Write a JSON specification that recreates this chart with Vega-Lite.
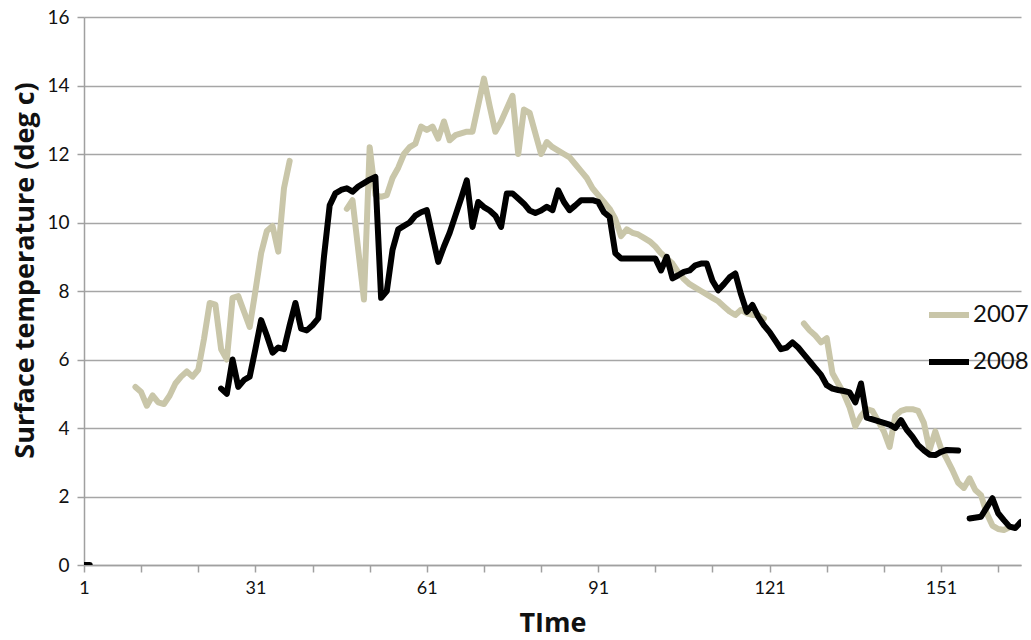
{
  "$schema": "https://vega.github.io/schema/vega-lite/v6.json",
  "autosize": {"type": "none"},
  "width": 937,
  "height": 548,
  "padding": {"left": 84, "top": 17, "right": 10, "bottom": 75},
  "background": "white",
  "config": {
    "view": {"stroke": null},
    "font": "Lato"
  },
  "data": {
    "values": [
      {"t":10,"v":5.2,"y":"2007","s":"2007a"},{"t":11,"v":5.05,"y":"2007","s":"2007a"},{"t":12,"v":4.65,"y":"2007","s":"2007a"},{"t":13,"v":4.95,"y":"2007","s":"2007a"},{"t":14,"v":4.75,"y":"2007","s":"2007a"},{"t":15,"v":4.7,"y":"2007","s":"2007a"},{"t":16,"v":4.95,"y":"2007","s":"2007a"},{"t":17,"v":5.3,"y":"2007","s":"2007a"},{"t":18,"v":5.5,"y":"2007","s":"2007a"},{"t":19,"v":5.65,"y":"2007","s":"2007a"},{"t":20,"v":5.5,"y":"2007","s":"2007a"},{"t":21,"v":5.7,"y":"2007","s":"2007a"},{"t":22,"v":6.6,"y":"2007","s":"2007a"},{"t":23,"v":7.65,"y":"2007","s":"2007a"},{"t":24,"v":7.6,"y":"2007","s":"2007a"},{"t":25,"v":6.3,"y":"2007","s":"2007a"},{"t":26,"v":6.0,"y":"2007","s":"2007a"},{"t":27,"v":7.8,"y":"2007","s":"2007a"},{"t":28,"v":7.85,"y":"2007","s":"2007a"},{"t":29,"v":7.4,"y":"2007","s":"2007a"},{"t":30,"v":6.95,"y":"2007","s":"2007a"},{"t":31,"v":8.0,"y":"2007","s":"2007a"},{"t":32,"v":9.1,"y":"2007","s":"2007a"},{"t":33,"v":9.75,"y":"2007","s":"2007a"},{"t":34,"v":9.9,"y":"2007","s":"2007a"},{"t":35,"v":9.15,"y":"2007","s":"2007a"},{"t":36,"v":11.0,"y":"2007","s":"2007a"},{"t":37,"v":11.8,"y":"2007","s":"2007a"},
      {"t":47,"v":10.4,"y":"2007","s":"2007b"},{"t":48,"v":10.65,"y":"2007","s":"2007b"},{"t":50,"v":7.75,"y":"2007","s":"2007b"},{"t":51,"v":12.2,"y":"2007","s":"2007b"},{"t":52,"v":10.8,"y":"2007","s":"2007b"},{"t":53,"v":10.75,"y":"2007","s":"2007b"},{"t":54,"v":10.8,"y":"2007","s":"2007b"},{"t":55,"v":11.3,"y":"2007","s":"2007b"},{"t":56,"v":11.6,"y":"2007","s":"2007b"},{"t":57,"v":12.0,"y":"2007","s":"2007b"},{"t":58,"v":12.2,"y":"2007","s":"2007b"},{"t":59,"v":12.3,"y":"2007","s":"2007b"},{"t":60,"v":12.8,"y":"2007","s":"2007b"},{"t":61,"v":12.7,"y":"2007","s":"2007b"},{"t":62,"v":12.8,"y":"2007","s":"2007b"},{"t":63,"v":12.45,"y":"2007","s":"2007b"},{"t":64,"v":12.95,"y":"2007","s":"2007b"},{"t":65,"v":12.4,"y":"2007","s":"2007b"},{"t":66,"v":12.55,"y":"2007","s":"2007b"},{"t":67,"v":12.6,"y":"2007","s":"2007b"},{"t":68,"v":12.65,"y":"2007","s":"2007b"},{"t":69,"v":12.65,"y":"2007","s":"2007b"},{"t":71,"v":14.2,"y":"2007","s":"2007b"},{"t":72,"v":13.4,"y":"2007","s":"2007b"},{"t":73,"v":12.65,"y":"2007","s":"2007b"},{"t":74,"v":12.95,"y":"2007","s":"2007b"},{"t":76,"v":13.7,"y":"2007","s":"2007b"},{"t":77,"v":12.0,"y":"2007","s":"2007b"},{"t":78,"v":13.3,"y":"2007","s":"2007b"},{"t":79,"v":13.2,"y":"2007","s":"2007b"},{"t":81,"v":12.0,"y":"2007","s":"2007b"},{"t":82,"v":12.35,"y":"2007","s":"2007b"},{"t":83,"v":12.2,"y":"2007","s":"2007b"},{"t":84,"v":12.1,"y":"2007","s":"2007b"},{"t":85,"v":12.0,"y":"2007","s":"2007b"},{"t":86,"v":11.9,"y":"2007","s":"2007b"},{"t":87,"v":11.7,"y":"2007","s":"2007b"},{"t":88,"v":11.5,"y":"2007","s":"2007b"},{"t":89,"v":11.3,"y":"2007","s":"2007b"},{"t":90,"v":11.0,"y":"2007","s":"2007b"},{"t":91,"v":10.8,"y":"2007","s":"2007b"},{"t":92,"v":10.6,"y":"2007","s":"2007b"},{"t":93,"v":10.4,"y":"2007","s":"2007b"},{"t":94,"v":10.1,"y":"2007","s":"2007b"},{"t":95,"v":9.6,"y":"2007","s":"2007b"},{"t":96,"v":9.8,"y":"2007","s":"2007b"},{"t":97,"v":9.7,"y":"2007","s":"2007b"},{"t":98,"v":9.65,"y":"2007","s":"2007b"},{"t":99,"v":9.55,"y":"2007","s":"2007b"},{"t":100,"v":9.45,"y":"2007","s":"2007b"},{"t":101,"v":9.3,"y":"2007","s":"2007b"},{"t":102,"v":9.1,"y":"2007","s":"2007b"},{"t":103,"v":8.95,"y":"2007","s":"2007b"},{"t":104,"v":8.8,"y":"2007","s":"2007b"},{"t":105,"v":8.55,"y":"2007","s":"2007b"},{"t":106,"v":8.35,"y":"2007","s":"2007b"},{"t":107,"v":8.2,"y":"2007","s":"2007b"},{"t":108,"v":8.1,"y":"2007","s":"2007b"},{"t":109,"v":8.0,"y":"2007","s":"2007b"},{"t":110,"v":7.9,"y":"2007","s":"2007b"},{"t":111,"v":7.8,"y":"2007","s":"2007b"},{"t":112,"v":7.7,"y":"2007","s":"2007b"},{"t":113,"v":7.55,"y":"2007","s":"2007b"},{"t":114,"v":7.4,"y":"2007","s":"2007b"},{"t":115,"v":7.3,"y":"2007","s":"2007b"},{"t":116,"v":7.45,"y":"2007","s":"2007b"},{"t":117,"v":7.35,"y":"2007","s":"2007b"},{"t":118,"v":7.3,"y":"2007","s":"2007b"},{"t":119,"v":7.3,"y":"2007","s":"2007b"},{"t":120,"v":7.2,"y":"2007","s":"2007b"},
      {"t":127,"v":7.05,"y":"2007","s":"2007c"},{"t":128,"v":6.85,"y":"2007","s":"2007c"},{"t":129,"v":6.7,"y":"2007","s":"2007c"},{"t":130,"v":6.5,"y":"2007","s":"2007c"},{"t":131,"v":6.62,"y":"2007","s":"2007c"},{"t":132,"v":5.6,"y":"2007","s":"2007c"},{"t":133,"v":5.3,"y":"2007","s":"2007c"},{"t":134,"v":5.0,"y":"2007","s":"2007c"},{"t":135,"v":4.6,"y":"2007","s":"2007c"},{"t":136,"v":4.05,"y":"2007","s":"2007c"},{"t":137,"v":4.35,"y":"2007","s":"2007c"},{"t":138,"v":4.55,"y":"2007","s":"2007c"},{"t":139,"v":4.5,"y":"2007","s":"2007c"},{"t":140,"v":4.2,"y":"2007","s":"2007c"},{"t":141,"v":3.9,"y":"2007","s":"2007c"},{"t":142,"v":3.45,"y":"2007","s":"2007c"},{"t":143,"v":4.35,"y":"2007","s":"2007c"},{"t":144,"v":4.5,"y":"2007","s":"2007c"},{"t":145,"v":4.55,"y":"2007","s":"2007c"},{"t":146,"v":4.55,"y":"2007","s":"2007c"},{"t":147,"v":4.5,"y":"2007","s":"2007c"},{"t":148,"v":4.15,"y":"2007","s":"2007c"},{"t":149,"v":3.36,"y":"2007","s":"2007c"},{"t":150,"v":3.9,"y":"2007","s":"2007c"},{"t":151,"v":3.4,"y":"2007","s":"2007c"},{"t":152,"v":3.1,"y":"2007","s":"2007c"},{"t":153,"v":2.77,"y":"2007","s":"2007c"},{"t":154,"v":2.4,"y":"2007","s":"2007c"},{"t":155,"v":2.25,"y":"2007","s":"2007c"},{"t":156,"v":2.53,"y":"2007","s":"2007c"},{"t":157,"v":2.19,"y":"2007","s":"2007c"},{"t":158,"v":2.04,"y":"2007","s":"2007c"},{"t":159,"v":1.51,"y":"2007","s":"2007c"},{"t":160,"v":1.15,"y":"2007","s":"2007c"},{"t":161,"v":1.05,"y":"2007","s":"2007c"},{"t":162,"v":1.02,"y":"2007","s":"2007c"},{"t":163,"v":1.1,"y":"2007","s":"2007c"},
      {"t":1,"v":0,"y":"2008","s":"2008a"},{"t":2,"v":0,"y":"2008","s":"2008a"},
      {"t":25,"v":5.15,"y":"2008","s":"2008b"},{"t":26,"v":5.0,"y":"2008","s":"2008b"},{"t":27,"v":6.0,"y":"2008","s":"2008b"},{"t":28,"v":5.2,"y":"2008","s":"2008b"},{"t":29,"v":5.4,"y":"2008","s":"2008b"},{"t":30,"v":5.5,"y":"2008","s":"2008b"},{"t":31,"v":6.3,"y":"2008","s":"2008b"},{"t":32,"v":7.15,"y":"2008","s":"2008b"},{"t":33,"v":6.7,"y":"2008","s":"2008b"},{"t":34,"v":6.2,"y":"2008","s":"2008b"},{"t":35,"v":6.35,"y":"2008","s":"2008b"},{"t":36,"v":6.3,"y":"2008","s":"2008b"},{"t":37,"v":7.0,"y":"2008","s":"2008b"},{"t":38,"v":7.65,"y":"2008","s":"2008b"},{"t":39,"v":6.9,"y":"2008","s":"2008b"},{"t":40,"v":6.85,"y":"2008","s":"2008b"},{"t":41,"v":7.0,"y":"2008","s":"2008b"},{"t":42,"v":7.2,"y":"2008","s":"2008b"},{"t":43,"v":9.0,"y":"2008","s":"2008b"},{"t":44,"v":10.5,"y":"2008","s":"2008b"},{"t":45,"v":10.85,"y":"2008","s":"2008b"},{"t":46,"v":10.95,"y":"2008","s":"2008b"},{"t":47,"v":11.0,"y":"2008","s":"2008b"},{"t":48,"v":10.9,"y":"2008","s":"2008b"},{"t":49,"v":11.05,"y":"2008","s":"2008b"},{"t":50,"v":11.15,"y":"2008","s":"2008b"},{"t":51,"v":11.25,"y":"2008","s":"2008b"},{"t":52,"v":11.33,"y":"2008","s":"2008b"},{"t":53,"v":7.8,"y":"2008","s":"2008b"},{"t":54,"v":8.0,"y":"2008","s":"2008b"},{"t":55,"v":9.2,"y":"2008","s":"2008b"},{"t":56,"v":9.8,"y":"2008","s":"2008b"},{"t":57,"v":9.9,"y":"2008","s":"2008b"},{"t":58,"v":10.0,"y":"2008","s":"2008b"},{"t":59,"v":10.2,"y":"2008","s":"2008b"},{"t":60,"v":10.3,"y":"2008","s":"2008b"},{"t":61,"v":10.36,"y":"2008","s":"2008b"},{"t":62,"v":9.6,"y":"2008","s":"2008b"},{"t":63,"v":8.85,"y":"2008","s":"2008b"},{"t":64,"v":9.3,"y":"2008","s":"2008b"},{"t":65,"v":9.7,"y":"2008","s":"2008b"},{"t":66,"v":10.2,"y":"2008","s":"2008b"},{"t":67,"v":10.7,"y":"2008","s":"2008b"},{"t":68,"v":11.23,"y":"2008","s":"2008b"},{"t":69,"v":9.87,"y":"2008","s":"2008b"},{"t":70,"v":10.6,"y":"2008","s":"2008b"},{"t":71,"v":10.45,"y":"2008","s":"2008b"},{"t":72,"v":10.35,"y":"2008","s":"2008b"},{"t":73,"v":10.2,"y":"2008","s":"2008b"},{"t":74,"v":9.87,"y":"2008","s":"2008b"},{"t":75,"v":10.85,"y":"2008","s":"2008b"},{"t":76,"v":10.85,"y":"2008","s":"2008b"},{"t":77,"v":10.7,"y":"2008","s":"2008b"},{"t":78,"v":10.55,"y":"2008","s":"2008b"},{"t":79,"v":10.35,"y":"2008","s":"2008b"},{"t":80,"v":10.28,"y":"2008","s":"2008b"},{"t":81,"v":10.35,"y":"2008","s":"2008b"},{"t":82,"v":10.46,"y":"2008","s":"2008b"},{"t":83,"v":10.36,"y":"2008","s":"2008b"},{"t":84,"v":10.94,"y":"2008","s":"2008b"},{"t":85,"v":10.6,"y":"2008","s":"2008b"},{"t":86,"v":10.36,"y":"2008","s":"2008b"},{"t":87,"v":10.5,"y":"2008","s":"2008b"},{"t":88,"v":10.65,"y":"2008","s":"2008b"},{"t":89,"v":10.65,"y":"2008","s":"2008b"},{"t":90,"v":10.65,"y":"2008","s":"2008b"},{"t":91,"v":10.6,"y":"2008","s":"2008b"},{"t":92,"v":10.3,"y":"2008","s":"2008b"},{"t":93,"v":10.16,"y":"2008","s":"2008b"},{"t":94,"v":9.1,"y":"2008","s":"2008b"},{"t":95,"v":8.95,"y":"2008","s":"2008b"},{"t":96,"v":8.95,"y":"2008","s":"2008b"},{"t":97,"v":8.95,"y":"2008","s":"2008b"},{"t":98,"v":8.95,"y":"2008","s":"2008b"},{"t":99,"v":8.95,"y":"2008","s":"2008b"},{"t":100,"v":8.95,"y":"2008","s":"2008b"},{"t":101,"v":8.95,"y":"2008","s":"2008b"},{"t":102,"v":8.6,"y":"2008","s":"2008b"},{"t":103,"v":9.0,"y":"2008","s":"2008b"},{"t":104,"v":8.37,"y":"2008","s":"2008b"},{"t":105,"v":8.46,"y":"2008","s":"2008b"},{"t":106,"v":8.56,"y":"2008","s":"2008b"},{"t":107,"v":8.6,"y":"2008","s":"2008b"},{"t":108,"v":8.75,"y":"2008","s":"2008b"},{"t":109,"v":8.8,"y":"2008","s":"2008b"},{"t":110,"v":8.8,"y":"2008","s":"2008b"},{"t":111,"v":8.3,"y":"2008","s":"2008b"},{"t":112,"v":8.02,"y":"2008","s":"2008b"},{"t":113,"v":8.2,"y":"2008","s":"2008b"},{"t":114,"v":8.4,"y":"2008","s":"2008b"},{"t":115,"v":8.51,"y":"2008","s":"2008b"},{"t":116,"v":7.9,"y":"2008","s":"2008b"},{"t":117,"v":7.39,"y":"2008","s":"2008b"},{"t":118,"v":7.59,"y":"2008","s":"2008b"},{"t":119,"v":7.25,"y":"2008","s":"2008b"},{"t":120,"v":7.0,"y":"2008","s":"2008b"},{"t":121,"v":6.8,"y":"2008","s":"2008b"},{"t":122,"v":6.55,"y":"2008","s":"2008b"},{"t":123,"v":6.3,"y":"2008","s":"2008b"},{"t":124,"v":6.35,"y":"2008","s":"2008b"},{"t":125,"v":6.5,"y":"2008","s":"2008b"},{"t":126,"v":6.35,"y":"2008","s":"2008b"},{"t":127,"v":6.15,"y":"2008","s":"2008b"},{"t":128,"v":5.95,"y":"2008","s":"2008b"},{"t":129,"v":5.75,"y":"2008","s":"2008b"},{"t":130,"v":5.55,"y":"2008","s":"2008b"},{"t":131,"v":5.25,"y":"2008","s":"2008b"},{"t":132,"v":5.15,"y":"2008","s":"2008b"},{"t":133,"v":5.11,"y":"2008","s":"2008b"},{"t":134,"v":5.08,"y":"2008","s":"2008b"},{"t":135,"v":5.04,"y":"2008","s":"2008b"},{"t":136,"v":4.75,"y":"2008","s":"2008b"},{"t":137,"v":5.3,"y":"2008","s":"2008b"},{"t":138,"v":4.3,"y":"2008","s":"2008b"},{"t":139,"v":4.25,"y":"2008","s":"2008b"},{"t":140,"v":4.2,"y":"2008","s":"2008b"},{"t":141,"v":4.15,"y":"2008","s":"2008b"},{"t":142,"v":4.1,"y":"2008","s":"2008b"},{"t":143,"v":4.0,"y":"2008","s":"2008b"},{"t":144,"v":4.23,"y":"2008","s":"2008b"},{"t":145,"v":3.95,"y":"2008","s":"2008b"},{"t":146,"v":3.75,"y":"2008","s":"2008b"},{"t":147,"v":3.5,"y":"2008","s":"2008b"},{"t":148,"v":3.35,"y":"2008","s":"2008b"},{"t":149,"v":3.22,"y":"2008","s":"2008b"},{"t":150,"v":3.21,"y":"2008","s":"2008b"},{"t":151,"v":3.3,"y":"2008","s":"2008b"},{"t":152,"v":3.36,"y":"2008","s":"2008b"},{"t":153,"v":3.35,"y":"2008","s":"2008b"},{"t":154,"v":3.34,"y":"2008","s":"2008b"},
      {"t":156,"v":1.36,"y":"2008","s":"2008c"},{"t":158,"v":1.41,"y":"2008","s":"2008c"},{"t":160,"v":1.95,"y":"2008","s":"2008c"},{"t":161,"v":1.51,"y":"2008","s":"2008c"},{"t":162,"v":1.31,"y":"2008","s":"2008c"},{"t":163,"v":1.12,"y":"2008","s":"2008c"},{"t":164,"v":1.08,"y":"2008","s":"2008c"},{"t":165,"v":1.26,"y":"2008","s":"2008c"}
    ]
  },
  "mark": {"type": "line", "strokeWidth": 6, "strokeCap": "round", "strokeJoin": "round", "clip": true},
  "encoding": {
    "x": {
      "field": "t", "type": "quantitative",
      "scale": {"domain": [1, 165], "nice": false, "zero": false},
      "axis": {
        "title": "TIme",
        "values": [1, 11, 21, 31, 41, 51, 61, 71, 81, 91, 101, 111, 121, 131, 141, 151, 161],
        "labelExpr": "(datum.value - 1) % 30 == 0 ? datum.label : ''",
        "grid": false,
        "domainColor": "#a0a0a0", "domainWidth": 1.5,
        "tickColor": "#a0a0a0", "tickWidth": 1.5, "tickSize": 7,
        "labelFont": "Lato", "labelFontSize": 18, "labelColor": "#111111", "labelPadding": 7,
        "labelFlush": false,
        "titleFont": "Open Sans", "titleFontSize": 27, "titleFontWeight": "bold", "titleColor": "#111111", "titlePadding": 13
      }
    },
    "y": {
      "field": "v", "type": "quantitative",
      "scale": {"domain": [0, 16], "nice": false},
      "axis": {
        "title": "Surface temperature (deg c)",
        "values": [0, 2, 4, 6, 8, 10, 12, 14, 16],
        "grid": true, "gridColor": "#a6a6a6", "gridWidth": 1.5,
        "domainColor": "#a0a0a0", "domainWidth": 1.5,
        "tickColor": "#a0a0a0", "tickWidth": 1.5, "tickSize": 7,
        "labelFont": "Lato", "labelFontSize": 19, "labelColor": "#111111", "labelPadding": 8,
        "titleFont": "Open Sans", "titleFontSize": 27, "titleFontWeight": "bold", "titleColor": "#111111",
        "titleX": -45, "titleY": 253, "titleBaseline": "bottom"
      }
    },
    "color": {
      "field": "y", "type": "nominal",
      "scale": {"domain": ["2007", "2008"], "range": ["#c9c6a9", "#000000"]},
      "legend": {
        "title": null,
        "orient": "none",
        "legendX": 842,
        "legendY": 275,
        "symbolType": "stroke",
        "symbolSize": 1600,
        "symbolStrokeWidth": 6,
        "labelFont": "Lato",
        "labelFontSize": 24,
        "labelColor": "#111111",
        "labelOffset": 1,
        "rowPadding": 12
      }
    },
    "detail": {"field": "s", "type": "nominal"},
    "order": {"field": "t", "type": "quantitative"}
  }
}
